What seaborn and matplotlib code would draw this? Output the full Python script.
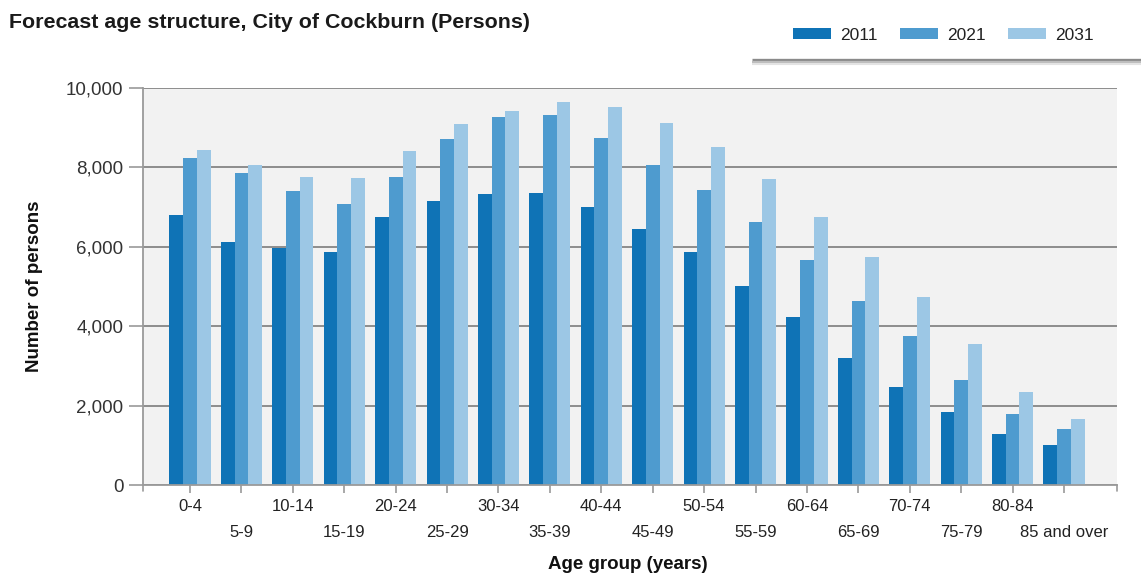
import matplotlib
matplotlib.use("Agg")
import matplotlib.pyplot as plt
from matplotlib.lines import Line2D
from matplotlib.ticker import FuncFormatter
import seaborn as sns
import pandas as pd

# Age groups and forecast population counts
age_groups = ["0-4", "5-9", "10-14", "15-19", "20-24", "25-29", "30-34", "35-39",
              "40-44", "45-49", "50-54", "55-59", "60-64", "65-69", "70-74",
              "75-79", "80-84", "85 and over"]
years = ["2011", "2021", "2031"]
persons_2011 = [6800, 6130, 5960, 5880, 6760, 7160, 7330, 7350, 6990, 6440,
                5880, 5010, 4220, 3190, 2480, 1850, 1290, 1010]
persons_2021 = [8230, 7870, 7410, 7080, 7770, 8710, 9280, 9320, 8750, 8060,
                7430, 6630, 5670, 4640, 3750, 2650, 1780, 1410]
persons_2031 = [8440, 8060, 7770, 7740, 8420, 9090, 9420, 9640, 9530, 9110,
                8520, 7700, 6740, 5750, 4730, 3540, 2350, 1650]
y_ticks = [0, 2000, 4000, 6000, 8000, 10000]

colors = ["#0f73b6", "#4e9bcf", "#9cc7e5"]

df = pd.DataFrame({
    "age": age_groups * 3,
    "year": [years[0]] * 18 + [years[1]] * 18 + [years[2]] * 18,
    "persons": persons_2011 + persons_2021 + persons_2031,
})

sns.set_style("white")
plt.rcParams["font.family"] = ["Liberation Sans", "DejaVu Sans"]

fig = plt.figure(figsize=(11.41, 5.75), dpi=100)
ax = fig.add_axes([143 / 1141, 1 - 485 / 575, 974 / 1141, 397 / 575])
ax.set_facecolor("#f2f2f2")

sns.barplot(data=df, x="age", y="persons", hue="year", order=age_groups,
            hue_order=years, palette=colors, saturation=1, width=0.8, gap=0,
            linewidth=0, ax=ax, legend=True)

handles, labels = ax.get_legend_handles_labels()
ax.get_legend().remove()

ax.set_ylim(0, 10000)
ax.set_xlim(-0.914, 18.03)
ax.set_yticks(y_ticks)
ax.yaxis.set_major_formatter(FuncFormatter(lambda v, p: f"{int(v):,}"))

# Horizontal gridlines
ax.set_axisbelow(True)
ax.yaxis.grid(True, color="#858585", linewidth=1.3)
ax.xaxis.grid(False)

for s in ["top", "right"]:
    ax.spines[s].set_visible(False)
for s in ["left", "bottom"]:
    ax.spines[s].set_color("#9a9a9a")
    ax.spines[s].set_linewidth(1.3)

# Staggered category labels: even groups on the first row, odd on the second
even_pos = list(range(0, len(age_groups), 2))
odd_pos = list(range(1, len(age_groups), 2))
ax.set_xticks(even_pos)
ax.set_xticklabels([age_groups[i] for i in even_pos])
ax.set_xticks(odd_pos, minor=True)
ax.set_xticklabels([age_groups[i] for i in odd_pos], minor=True)

ax.tick_params(axis="x", which="both", direction="out", length=5.5, width=1.2,
               color="#9a9a9a", labelsize=12, labelcolor="#222222", bottom=True)
ax.tick_params(axis="x", which="major", pad=4.5)
ax.tick_params(axis="x", which="minor", pad=23)
ax.tick_params(axis="y", direction="out", length=10, width=1.2,
               color="#9a9a9a", pad=4, labelsize=13.5, labelcolor="#333333",
               left=True)

# Small end ticks at both ends of the category axis
for xe in (0.0, 1.0):
    ax.add_artist(Line2D([xe, xe], [0, -0.014], transform=ax.transAxes,
                         color="#9a9a9a", linewidth=1.2, clip_on=False))

ax.set_xlabel("Age group (years)", fontsize=13.5, fontweight="bold",
              color="#111111", va="center")
ax.xaxis.set_label_coords(0.498, -0.2015)
ax.set_ylabel("Number of persons", fontsize=13.5, fontweight="bold",
              color="#111111", va="center")
ax.yaxis.set_label_coords(-0.111, 0.5)

fig.text(0.008, 1 - 22 / 575, "Forecast age structure, City of Cockburn (Persons)",
         fontsize=15.4, fontweight="bold", color="#1a1a1a", va="center", ha="left")

fig.legend(handles, labels, loc="center left", bbox_to_anchor=(793 / 1141, 1 - 35 / 575),
           ncol=3, frameon=False, fontsize=12.5, handlelength=2.2, handleheight=0.6,
           handletextpad=0.5, columnspacing=1.3, borderpad=0, borderaxespad=0,
           labelcolor="#222222")

# Shadow strip under the legend
for dy, c, lw in [(0, "#8a8a8a", 2.4), (2, "#bdbdbd", 1.6), (4, "#e3e3e3", 1.5)]:
    yy = 1 - (60 + dy) / 575
    fig.add_artist(Line2D([752 / 1141, 1.0], [yy, yy], transform=fig.transFigure,
                          color=c, linewidth=lw, solid_capstyle="butt"))

fig.savefig("out.png", dpi=100)
